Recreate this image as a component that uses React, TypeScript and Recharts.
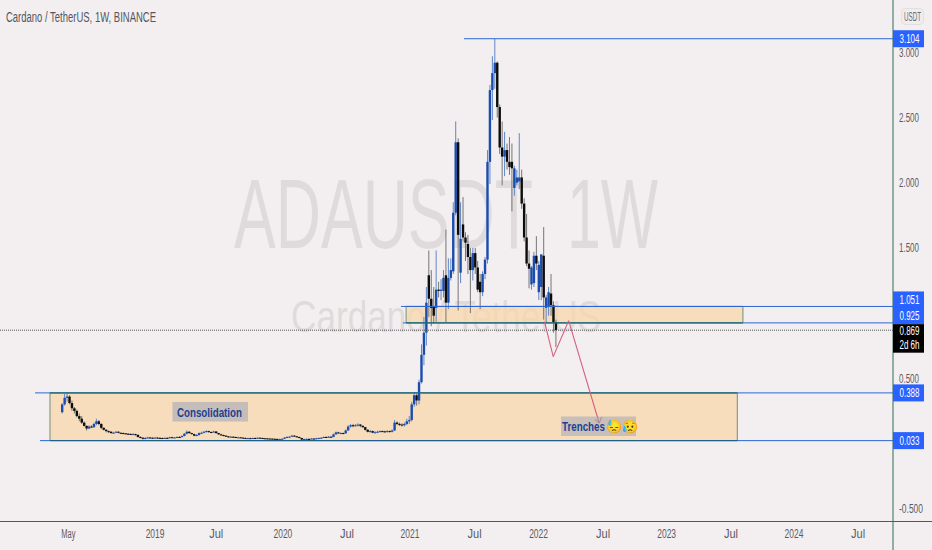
import { Bar, ComposedChart, ReferenceArea, ReferenceDot, ReferenceLine, XAxis, YAxis } from 'recharts';

const opens = [
  0.24, 0.3, 0.35, 0.36, 0.31, 0.27, 0.25, 0.21, 0.19, 0.16,
  0.135, 0.115, 0.13, 0.125, 0.15, 0.17, 0.15, 0.12, 0.105, 0.095,
  0.09, 0.08, 0.083, 0.09, 0.082, 0.08, 0.078, 0.075, 0.073, 0.07,
  0.072, 0.066, 0.05, 0.044, 0.036, 0.042, 0.046, 0.044, 0.042, 0.045,
  0.043, 0.042, 0.04, 0.043, 0.042, 0.048, 0.045, 0.046, 0.05, 0.049,
  0.058, 0.075, 0.09, 0.08, 0.072, 0.06, 0.065, 0.08, 0.082, 0.09,
  0.095, 0.088, 0.085, 0.092, 0.08, 0.07, 0.065, 0.06, 0.055, 0.05,
  0.052, 0.05, 0.046, 0.047, 0.045, 0.042, 0.04, 0.041, 0.04, 0.042,
  0.041, 0.044, 0.042, 0.04, 0.039, 0.038, 0.037, 0.036, 0.035, 0.033,
  0.034, 0.036, 0.045, 0.05, 0.052, 0.06, 0.055, 0.05, 0.042, 0.03,
  0.034, 0.035, 0.034, 0.038, 0.033, 0.04, 0.042, 0.044, 0.05, 0.049,
  0.052, 0.05, 0.07, 0.085, 0.08, 0.08, 0.078, 0.1, 0.13, 0.14,
  0.135, 0.14, 0.145, 0.135, 0.125, 0.105, 0.09, 0.095, 0.083, 0.086,
  0.09, 0.095, 0.093, 0.09, 0.095, 0.09, 0.1, 0.16, 0.15, 0.145,
  0.14, 0.15, 0.17, 0.18, 0.3, 0.37, 0.33, 0.47, 0.68, 0.85,
  1.29, 1.11, 1.05, 1.04, 1.18, 1.17, 1.17, 1.29, 1.08, 1.27,
  1.32, 1.77, 2.31, 1.31, 1.68, 1.58, 1.53, 1.43, 1.33, 1.46,
  1.35, 1.24, 1.16, 1.3, 1.41, 2.16, 2.71, 2.84, 2.92, 2.58,
  2.27, 2.2, 2.25, 2.16, 2.16, 1.96, 2.0, 2.01, 2.04, 1.84,
  1.58, 1.38, 1.22, 1.23, 1.44, 1.16, 1.2, 1.44, 1.04, 1.05,
  1.15, 1.06, 0.93,
];

const closes = [
  0.3, 0.35, 0.36, 0.31, 0.27, 0.25, 0.21, 0.19, 0.16, 0.135,
  0.115, 0.13, 0.125, 0.15, 0.17, 0.15, 0.12, 0.105, 0.095, 0.09,
  0.08, 0.083, 0.09, 0.082, 0.08, 0.078, 0.075, 0.073, 0.07, 0.072,
  0.066, 0.05, 0.044, 0.036, 0.042, 0.046, 0.044, 0.042, 0.045, 0.043,
  0.042, 0.04, 0.043, 0.042, 0.048, 0.045, 0.046, 0.05, 0.049, 0.058,
  0.075, 0.09, 0.08, 0.072, 0.06, 0.065, 0.08, 0.082, 0.09, 0.095,
  0.088, 0.085, 0.092, 0.08, 0.07, 0.065, 0.06, 0.055, 0.05, 0.052,
  0.05, 0.046, 0.047, 0.045, 0.042, 0.04, 0.041, 0.04, 0.042, 0.041,
  0.044, 0.042, 0.04, 0.039, 0.038, 0.037, 0.036, 0.035, 0.033, 0.034,
  0.036, 0.045, 0.05, 0.052, 0.06, 0.055, 0.05, 0.042, 0.03, 0.034,
  0.035, 0.034, 0.038, 0.033, 0.04, 0.042, 0.044, 0.05, 0.049, 0.052,
  0.05, 0.07, 0.085, 0.08, 0.08, 0.078, 0.1, 0.13, 0.14, 0.135,
  0.14, 0.145, 0.135, 0.125, 0.105, 0.09, 0.095, 0.083, 0.086, 0.09,
  0.095, 0.093, 0.09, 0.095, 0.09, 0.1, 0.16, 0.15, 0.145, 0.14,
  0.15, 0.17, 0.18, 0.3, 0.37, 0.33, 0.47, 0.68, 0.85, 1.08,
  1.11, 1.04, 0.98, 1.18, 1.17, 1.18, 1.27, 1.08, 1.27, 1.33,
  1.77, 2.31, 1.6, 1.57, 1.58, 1.54, 1.43, 1.33, 1.46, 1.35,
  1.18, 1.16, 1.3, 1.41, 2.16, 2.71, 2.84, 2.92, 2.58, 2.27,
  2.2, 2.25, 2.16, 2.12, 2.11, 2.11, 2.04, 2.04, 1.84, 1.58,
  1.38, 1.34, 1.35, 1.44, 1.38, 1.37, 1.45, 1.12, 1.12, 1.16,
  1.06, 0.93, 0.87,
];

const highs = [
  0.31, 0.38, 0.39, 0.37, 0.33, 0.28, 0.26, 0.23, 0.21, 0.17,
  0.14, 0.14, 0.14, 0.16, 0.19, 0.18, 0.155, 0.125, 0.11, 0.1,
  0.095, 0.09, 0.095, 0.095, 0.085, 0.085, 0.08, 0.08, 0.078, 0.08,
  0.075, 0.07, 0.055, 0.05, 0.05, 0.052, 0.05, 0.048, 0.05, 0.05,
  0.048, 0.046, 0.047, 0.048, 0.052, 0.052, 0.05, 0.055, 0.056, 0.062,
  0.08, 0.1, 0.095, 0.082, 0.075, 0.072, 0.085, 0.09, 0.096, 0.102,
  0.098, 0.092, 0.098, 0.095, 0.082, 0.075, 0.068, 0.064, 0.058, 0.058,
  0.056, 0.053, 0.052, 0.05, 0.048, 0.046, 0.045, 0.045, 0.046, 0.046,
  0.048, 0.047, 0.045, 0.043, 0.042, 0.041, 0.04, 0.039, 0.038, 0.038,
  0.04, 0.05, 0.056, 0.058, 0.066, 0.064, 0.058, 0.052, 0.044, 0.038,
  0.04, 0.04, 0.042, 0.04, 0.044, 0.046, 0.05, 0.054, 0.055, 0.058,
  0.056, 0.076, 0.092, 0.09, 0.086, 0.084, 0.108, 0.14, 0.15, 0.15,
  0.15, 0.155, 0.15, 0.14, 0.128, 0.11, 0.105, 0.1, 0.095, 0.098,
  0.1, 0.1, 0.098, 0.102, 0.1, 0.108, 0.18, 0.17, 0.16, 0.155,
  0.16, 0.19, 0.21, 0.32, 0.39, 0.38, 0.49, 0.76, 0.97, 1.2,
  1.48, 1.33, 1.2, 1.48, 1.24, 1.26, 1.33, 1.64, 1.42, 1.42,
  1.85, 2.47, 2.34, 1.85, 1.89, 1.62, 1.6, 1.5, 1.5, 1.5,
  1.4, 1.3, 1.32, 1.43, 2.25, 2.75, 2.97, 3.104, 2.93, 2.6,
  2.47, 2.39, 2.3, 2.35, 2.3, 2.13, 2.1, 2.38, 2.1, 1.88,
  1.76, 1.48, 1.36, 1.47, 1.59, 1.4, 1.45, 1.66, 1.14, 1.2,
  1.3, 1.09, 0.95,
];

const lows = [
  0.23, 0.29, 0.32, 0.3, 0.25, 0.23, 0.2, 0.17, 0.15, 0.13,
  0.1, 0.11, 0.12, 0.12, 0.14, 0.14, 0.11, 0.1, 0.085, 0.08,
  0.075, 0.075, 0.08, 0.078, 0.075, 0.072, 0.07, 0.068, 0.065, 0.065,
  0.06, 0.045, 0.04, 0.03, 0.032, 0.04, 0.04, 0.038, 0.04, 0.04,
  0.038, 0.036, 0.038, 0.04, 0.04, 0.042, 0.042, 0.044, 0.046, 0.047,
  0.055, 0.07, 0.075, 0.068, 0.055, 0.055, 0.06, 0.076, 0.078, 0.085,
  0.082, 0.08, 0.082, 0.075, 0.066, 0.06, 0.055, 0.05, 0.045, 0.046,
  0.046, 0.042, 0.042, 0.042, 0.038, 0.036, 0.037, 0.036, 0.037, 0.038,
  0.039, 0.04, 0.036, 0.035, 0.034, 0.033, 0.032, 0.03, 0.03, 0.03,
  0.032, 0.034, 0.042, 0.046, 0.05, 0.05, 0.046, 0.04, 0.023, 0.026,
  0.03, 0.03, 0.032, 0.03, 0.032, 0.038, 0.04, 0.042, 0.045, 0.046,
  0.046, 0.048, 0.066, 0.075, 0.075, 0.072, 0.075, 0.098, 0.122, 0.125,
  0.13, 0.13, 0.125, 0.118, 0.098, 0.085, 0.085, 0.08, 0.078, 0.082,
  0.085, 0.088, 0.085, 0.085, 0.085, 0.085, 0.095, 0.14, 0.135, 0.13,
  0.13, 0.14, 0.15, 0.17, 0.28, 0.29, 0.3, 0.46, 0.6, 0.75,
  0.97, 0.9, 0.92, 0.93, 1.12, 1.1, 1.12, 0.93, 1.03, 1.25,
  1.3, 1.75, 1.02, 1.23, 1.55, 1.4, 1.3, 1.0, 1.25, 1.3,
  1.16, 1.03, 1.13, 1.26, 1.38, 1.99, 2.48, 2.72, 2.5, 2.22,
  1.98, 2.05, 2.1, 2.06, 1.78, 1.9, 1.98, 1.95, 1.8, 1.55,
  1.36, 1.19, 1.18, 1.2, 1.33, 1.1, 1.1, 0.95, 0.93, 0.98,
  0.98, 0.85, 0.74,
];

const timeTicks = [2.5, 38, 63, 90.3, 116.5, 142.3, 168.7, 194.9, 221.3, 247.3, 273.6, 299.4, 325.6];
const timeLabels = ['May', '2019', 'Jul', '2020', 'Jul', '2021', 'Jul', '2022', 'Jul', '2023', 'Jul', '2024', 'Jul'];
// 1.000 and 0.000 sit behind the price tags in the reference
const priceTicks = [3, 2.5, 2, 1.5, 0.5, -0.5];

const levelPrices = [3.104, 1.051, 0.925, 0.388, 0.022];
const levelLabels = ['3.104', '1.051', '0.925', '0.388', '0.033'];
const levelStarts = [164.4, 138.6, 139.4, -11.1, -9.1];
const tagShifts = [0, -6.5, -7, 0, 0];
const lastPrice = 0.869;

const zoneWeeks = [[-5, 276.2], [140.7, 278.5]];
const zonePrices = [[0.022, 0.388], [0.925, 1.051]];
const zoneEdgeColors = [['#1f5f80', '#1f6f5e'], ['#1f6f5e', '#2a66d4']];

const pathWeeks = [197.3, 200.9, 207.2, 219.7];
const pathPrices = [0.934, 0.666, 0.942, 0.157];
const headWeeks = [218, 220.7];
const headPrices = [0.184, 0.203];

const WEEK_MIN = -25.45;
const WEEK_MAX = 339.9;
const BG = '#f3eff0';
const BLUE = '#2a66d4';
const TAG_BLUE = '#2962ff';
const EDGE = '#2f6b5a';
const SANS = '"Liberation Sans", sans-serif';

const rows = opens.map((open, i) => ({ week: i, open, close: closes[i], high: highs[i], low: lows[i] }));

function Candle(props: any) {
  const { x, y, width, height, payload } = props;
  const perUnit = height / (payload.high - payload.low);
  const top = y + (payload.high - Math.max(payload.open, payload.close)) * perUnit;
  const bodyH = Math.max(1, Math.abs(payload.open - payload.close) * perUnit);
  const up = payload.close >= payload.open;
  const cx = x + width / 2;
  return (
    <g>
      <line x1={cx} x2={cx} y1={y} y2={y + height} stroke={up ? '#5f86c8' : '#757575'} strokeWidth={1} />
      <rect x={x} y={top} width={width} height={bodyH} fill={up ? '#1a4cad' : '#0c0c0c'} />
    </g>
  );
}

function PriceTick({ x, y, payload }: any) {
  const s = payload.value.toFixed(3);
  return (
    <text x={x - 2} y={y + 4.5} fontFamily={SANS} fontSize={12} fill="#5a5a62" textLength={s.length * 4} lengthAdjust="spacingAndGlyphs">
      {s}
    </text>
  );
}

function TimeTick({ x, y, index }: any) {
  const s = timeLabels[index];
  return (
    <text x={x} y={y + 8} textAnchor="middle" fontFamily={SANS} fontSize={12} fill="#5a5a62" textLength={s.length * 4.7} lengthAdjust="spacingAndGlyphs">
      {s}
    </text>
  );
}

function priceTag(label: string, shift: number) {
  return ({ cx, cy }: any) => (
    <g>
      <rect x={cx} y={cy + shift - 8.5} width={31} height={17} fill={TAG_BLUE} />
      <text x={cx + 6.5} y={cy + shift + 4.5} fontFamily={SANS} fontSize={12} fill="#fff" textLength={20} lengthAdjust="spacingAndGlyphs">
        {label}
      </text>
    </g>
  );
}

function lastTag({ cx, cy }: any) {
  return (
    <g>
      <rect x={cx} y={cy - 6} width={31} height={28.5} fill="#000" />
      <text x={cx + 6.5} y={cy + 4.5} fontFamily={SANS} fontSize={12} fill="#fff" textLength={20} lengthAdjust="spacingAndGlyphs">
        {lastPrice.toFixed(3)}
      </text>
      <text x={cx + 6.5} y={cy + 19} fontFamily={SANS} fontSize={12} fill="#fff" textLength={20} lengthAdjust="spacingAndGlyphs">
        2d 6h
      </text>
    </g>
  );
}

export default function App() {
  return (
    <div style={{ position: 'absolute', left: 0, top: 0, width: 932, height: 550, background: BG, overflow: 'hidden' }}>
      <svg width={932} height={550} style={{ position: 'absolute', left: 0, top: 0 }}>
        <text x={234} y={248} fontFamily={SANS} fontSize={99} fill="#dfdbdc" textLength={299} lengthAdjust="spacingAndGlyphs">ADAUSDT</text>
        <text x={567} y={248} fontFamily={SANS} fontSize={99} fill="#dfdbdc" textLength={91} lengthAdjust="spacingAndGlyphs">1W</text>
        <text x={291} y={332} fontFamily={SANS} fontSize={44} fill="#dfdbdc" textLength={310} lengthAdjust="spacingAndGlyphs">Cardano / TetherUS</text>
        <line x1={893} x2={893} y1={0} y2={550} stroke={EDGE} />
        <line x1={0} x2={932} y1={521.5} y2={521.5} stroke={EDGE} />
        <text x={6} y={22} fontFamily={SANS} fontSize={14} fill="#55555c" textLength={150} lengthAdjust="spacingAndGlyphs">Cardano / TetherUS, 1W, BINANCE</text>
        <rect x={901.5} y={8.5} width={22} height={16} rx={4} fill="#f1edee" stroke="#e2dfe0" />
        <text x={904} y={21} fontFamily={SANS} fontSize={12} fill="#6a6a70" textLength={17} lengthAdjust="spacingAndGlyphs">USDT</text>
      </svg>
      <div style={{ position: 'absolute', left: 0, top: 0 }}>
        <ComposedChart width={932} height={550} data={rows} margin={{ top: 0, right: 0, bottom: 0, left: 0 }}>
          <XAxis
            dataKey="week"
            type="number"
            domain={[WEEK_MIN, WEEK_MAX]}
            allowDataOverflow
            ticks={timeTicks}
            height={28}
            axisLine={false}
            tickLine={false}
            interval={0}
            tick={TimeTick}
          />
          <YAxis
            orientation="right"
            type="number"
            domain={[-0.602, 3.401]}
            allowDataOverflow
            ticks={priceTicks}
            width={39}
            axisLine={false}
            tickLine={false}
            interval={0}
            tick={PriceTick}
          />
          {zoneWeeks.map((w, i) => (
            <ReferenceArea
              key={i}
              x1={w[0]}
              x2={w[1]}
              y1={zonePrices[i][0]}
              y2={zonePrices[i][1]}
              fill="#f7d7ad"
              fillOpacity={0.78}
              stroke="#6f9078"
              strokeWidth={1}
            />
          ))}
          {levelPrices.map((p, i) => (
            <ReferenceLine
              key={i}
              segment={[{ x: levelStarts[i], y: p }, { x: WEEK_MAX, y: p }]}
              stroke={BLUE}
              strokeWidth={1}
            />
          ))}
          {zoneWeeks.map((w, i) =>
            zonePrices[i].map((p, j) => (
              <ReferenceLine
                key={`${i}-${j}`}
                segment={[{ x: w[0], y: p === zonePrices[0][0] ? levelPrices[4] : p }, { x: w[1], y: p === zonePrices[0][0] ? levelPrices[4] : p }]}
                stroke={zoneEdgeColors[i][j]}
                strokeWidth={1}
              />
            )),
          )}
          <ReferenceLine y={lastPrice} stroke="#555" strokeDasharray="1 1" />
          <Bar dataKey={(d: any) => [d.low, d.high]} barSize={2.4} isAnimationActive={false} shape={Candle} />
          {pathWeeks.slice(1).map((w, i) => (
            <ReferenceLine
              key={i}
              segment={[{ x: pathWeeks[i], y: pathPrices[i] }, { x: w, y: pathPrices[i + 1] }]}
              stroke="#d4607f"
              strokeWidth={1.1}
            />
          ))}
          {headWeeks.map((w, i) => (
            <ReferenceLine
              key={i}
              segment={[{ x: w, y: headPrices[i] }, { x: pathWeeks[3], y: pathPrices[3] }]}
              stroke="#d4607f"
              strokeWidth={1}
            />
          ))}
          {levelPrices.map((p, i) => (
            <ReferenceDot key={i} x={WEEK_MAX} y={p} r={0} ifOverflow="visible" shape={priceTag(levelLabels[i], tagShifts[i])} />
          ))}
          <ReferenceDot x={WEEK_MAX} y={lastPrice} r={0} ifOverflow="visible" shape={lastTag} />
        </ComposedChart>
      </div>
      <svg width={932} height={550} style={{ position: 'absolute', left: 0, top: 0, pointerEvents: 'none' }}>
        <rect x={172.5} y={402} width={75.5} height={19.5} fill="#9aa2b5" fillOpacity={0.55} />
        <text x={177} y={416.5} fontFamily={SANS} fontWeight="bold" fontSize={13} fill="#1c3f94" textLength={65} lengthAdjust="spacingAndGlyphs">Consolidation</text>
        <rect x={561} y={416.5} width={75} height={19.5} fill="#9aa2b5" fillOpacity={0.5} />
        <text x={562} y={431} fontFamily={SANS} fontWeight="bold" fontSize={13} fill="#1c3f94" textLength={43} lengthAdjust="spacingAndGlyphs">Trenches</text>
        <text x={606} y={431} fontSize={13}>😓😥</text>
      </svg>
    </div>
  );
}
